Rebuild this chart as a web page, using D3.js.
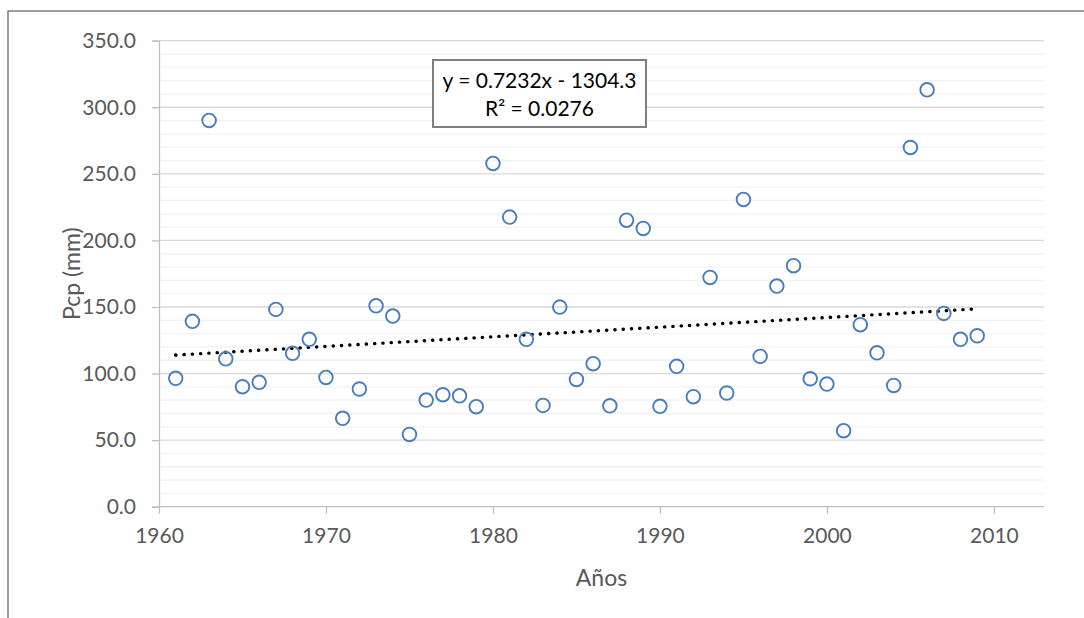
<!DOCTYPE html>
<html>
<head>
<meta charset="utf-8">
<script src="https://cdn.jsdelivr.net/npm/d3@7"></script>
<style>
  html, body { margin: 0; padding: 0; background: #fff; }
  svg { display: block; }
  text { font-family: Lato, "Open Sans", "Liberation Sans", sans-serif; }
</style>
</head>
<body>
<svg id="chart" width="1084" height="618"></svg>
<script>
// ---- data ----
const years = [1961,1962,1963,1964,1965,1966,1967,1968,1969,1970,
               1971,1972,1973,1974,1975,1976,1977,1978,1979,1980,
               1981,1982,1983,1984,1985,1986,1987,1988,1989,1990,
               1991,1992,1993,1994,1995,1996,1997,1998,1999,2000,
               2001,2002,2003,2004,2005,2006,2007,2008,2009];
const pcp = [96.4,139.2,290.1,111.1,90.1,93.4,148.2,115.2,125.7,97.1,
             66.4,88.4,150.9,143.2,54.3,80.1,84.1,83.3,75.1,257.8,
             217.5,125.7,76.1,149.9,95.6,107.4,75.8,215.2,209.0,75.4,
             105.4,82.6,172.2,85.4,230.8,112.9,165.7,181.0,96.1,92.1,
             57.1,136.7,115.6,91.1,269.8,313.1,145.2,125.7,128.4];
const yTicks = [0,50,100,150,200,250,300,350];
const xTicks = [1960,1970,1980,1990,2000,2010];
const trendCoef = [0.7232, -1304.3];   // slope, intercept
const equationLines = ["y = 0.7232x - 1304.3", "R² = 0.0276"];
const xTitle = "Años";
const yTitle = "Pcp (mm)";

// ---- layout ----
const svg = d3.select("#chart");
const x = d3.scaleLinear().domain([1960, 2013]).range([159, 1044]);
const y = d3.scaleLinear().domain([0, 350]).range([506.7, 40.7]);

// outer border
svg.append("rect").attr("x", 8).attr("y", 11).attr("width", 1200).attr("height", 800)
  .attr("fill", "none").attr("stroke", "#6b6b6b").attr("stroke-width", 1.3);

// minor gridlines
const minor = d3.range(10, 350, 10).filter(v => v % 50 !== 0);
svg.append("g").selectAll("line").data(minor).join("line")
  .attr("x1", x(1960)).attr("x2", x(2013))
  .attr("y1", d => y(d)).attr("y2", d => y(d))
  .attr("stroke", "#f2f2f2").attr("stroke-width", 1.3);

// major gridlines
svg.append("g").selectAll("line").data(yTicks.filter(v => v > 0)).join("line")
  .attr("x1", x(1960)).attr("x2", x(2013))
  .attr("y1", d => y(d)).attr("y2", d => y(d))
  .attr("stroke", "#d9d9d9").attr("stroke-width", 1.3);

// y axis
const yAxis = svg.append("g").attr("transform", `translate(${x(1960)},0)`)
  .call(d3.axisLeft(y).tickValues(yTicks).tickSize(7).tickPadding(16).tickFormat(d3.format(".1f")));
yAxis.select(".domain").attr("stroke", "#bfbfbf").attr("stroke-width", 1.3);
yAxis.selectAll(".tick line").attr("stroke", "#bfbfbf").attr("stroke-width", 1.3);
yAxis.selectAll(".tick text").attr("fill", "#595959").style("font-size", "21px")
  .style("font-family", "Lato, 'Open Sans', sans-serif");

// x axis
const xAxis = svg.append("g").attr("transform", `translate(0,${y(0)})`)
  .call(d3.axisBottom(x).tickValues(xTicks).tickSize(7).tickPadding(14).tickFormat(d3.format("d")));
xAxis.select(".domain").attr("stroke", "#bfbfbf").attr("stroke-width", 1.3)
  .attr("d", `M${x(1960)},0H${x(2013)}`);
xAxis.selectAll(".tick line").attr("stroke", "#bfbfbf").attr("stroke-width", 1.3);
xAxis.selectAll(".tick text").attr("fill", "#595959").style("font-size", "21px")
  .style("font-family", "Lato, 'Open Sans', sans-serif");

// titles
svg.append("text").attr("x", (x(1960) + x(2013)) / 2).attr("y", 586)
  .attr("text-anchor", "middle").attr("fill", "#595959").style("font-size", "23px").text(xTitle);
svg.append("text").attr("transform", `translate(80,${(y(0) + y(350)) / 2}) rotate(-90)`)
  .attr("text-anchor", "middle").attr("fill", "#595959").style("font-size", "23px").text(yTitle);

// trendline
const tx = [d3.min(years), d3.max(years)];
svg.append("line")
  .attr("x1", x(tx[0])).attr("y1", y(trendCoef[0] * tx[0] + trendCoef[1]))
  .attr("x2", x(tx[1])).attr("y2", y(trendCoef[0] * tx[1] + trendCoef[1]))
  .attr("stroke", "#000").attr("stroke-width", 3.4)
  .attr("stroke-linecap", "round").attr("stroke-dasharray", "0.2 8.1");

// points
svg.append("g").selectAll("circle").data(years).join("circle")
  .attr("cx", d => x(d)).attr("cy", (d, i) => y(pcp[i])).attr("r", 6.8)
  .attr("fill", "none").attr("stroke", "#4a7ebb").attr("stroke-width", 1.9);

// equation box
const box = svg.append("g");
box.append("rect").attr("x", 433).attr("y", 60).attr("width", 213).attr("height", 67)
  .attr("fill", "#fff").attr("stroke", "#7f7f7f").attr("stroke-width", 2);
box.selectAll("text").data(equationLines).join("text")
  .attr("x", 539.5).attr("y", (d, i) => 88 + i * 28)
  .attr("text-anchor", "middle").attr("fill", "#000").style("font-size", "21px")
  .text(d => d);
</script>
</body>
</html>
